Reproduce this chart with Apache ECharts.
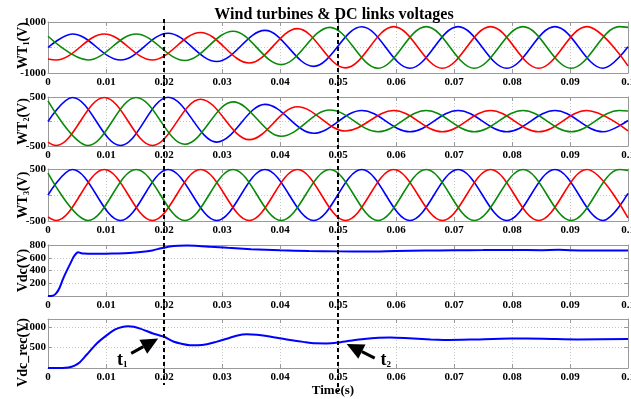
<!DOCTYPE html>
<html>
<head>
<meta charset="utf-8">
<script src="https://cdn.jsdelivr.net/npm/echarts@6/dist/echarts.min.js"></script>
<style>
  html, body { margin: 0; padding: 0; background: #fff; }
  #chart { width: 631px; height: 399px; }
</style>
</head>
<body>
<div id="chart"></div>
<script>
// ---- data: [time (s), voltage (V)] at the turning points of each phase ----
const timeTicks = [0, 0.01, 0.02, 0.03, 0.04, 0.05, 0.06, 0.07, 0.08, 0.09, 0.1];
const eventTimes = [0.02, 0.05];

const wt1Ticks = [-1000, 1000];
const wt2Ticks = [-500, 500];
const wt3Ticks = [-500, 500];
const vdcTicks = [200, 400, 600, 800];
const vdcRecTicks = [500, 1000];

// Wind turbine 1 (amplitude grows after t = 0.02 s)
const wt1Blue = [[0,0],[0.0042,530],[0.0125,-490],[0.0207,560],[0.0291,-550],[0.0374,670],[0.0458,-740],[0.0541,815],[0.0624,-815],[0.0707,820],[0.0791,-815],[0.0874,820],[0.0957,-815],[0.1,30]];
const wt1Red = [[0,-450],[0.0014,-490],[0.0097,530],[0.018,-490],[0.0263,590],[0.0347,-610],[0.043,740],[0.0513,-800],[0.0596,820],[0.068,-815],[0.0763,820],[0.0846,-815],[0.0929,820],[0.1,-720]];
const wt1Green = [[0,440],[0.0069,-490],[0.0152,530],[0.0236,-510],[0.0319,640],[0.0402,-670],[0.0486,790],[0.0569,-815],[0.0652,820],[0.0735,-815],[0.0819,820],[0.0902,-815],[0.0985,820],[0.1,790]];

// Wind turbine 2 (amplitude decays after t = 0.02 s)
const wt2Blue = [[0,0],[0.0042,490],[0.0125,-490],[0.0207,495],[0.0291,-420],[0.0374,350],[0.0458,-240],[0.0541,225],[0.0624,-210],[0.0707,225],[0.0791,-210],[0.0874,225],[0.0957,-210],[0.1,20]];
const wt2Red = [[0,-420],[0.0014,-490],[0.0097,490],[0.018,-490],[0.0263,455],[0.0347,-370],[0.043,300],[0.0513,-195],[0.0596,225],[0.068,-210],[0.0763,225],[0.0846,-210],[0.0929,225],[0.1,-190]];
const wt2Green = [[0,420],[0.0069,-490],[0.0152,490],[0.0236,-465],[0.0319,400],[0.0402,-300],[0.0486,235],[0.0569,-210],[0.0652,225],[0.0735,-210],[0.0819,225],[0.0902,-210],[0.0985,225],[0.1,215]];

// Wind turbine 3 (constant amplitude)
const wt3Blue = [[0,0],[0.0042,490],[0.0125,-490],[0.0207,490],[0.0291,-490],[0.0374,490],[0.0458,-490],[0.0541,490],[0.0624,-490],[0.0707,490],[0.0791,-490],[0.0874,490],[0.0957,-490],[0.1,30]];
const wt3Red = [[0,-420],[0.0014,-490],[0.0097,490],[0.018,-490],[0.0263,490],[0.0347,-490],[0.043,490],[0.0513,-490],[0.0596,490],[0.068,-490],[0.0763,490],[0.0846,-490],[0.0929,490],[0.1,-440]];
const wt3Green = [[0,420],[0.0069,-490],[0.0152,490],[0.0236,-490],[0.0319,490],[0.0402,-490],[0.0486,490],[0.0569,-490],[0.0652,490],[0.0735,-490],[0.0819,490],[0.0902,-490],[0.0985,490],[0.1,470]];

// DC link voltage
const vdc = [[0,0],[0.0008,3],[0.0014,40],[0.002,130],[0.0026,270],[0.0032,390],[0.0038,500],[0.0044,610],[0.0049,670],[0.0052,688],[0.0056,675],[0.0062,665],[0.008,662],[0.01,664],[0.012,668],[0.014,675],[0.016,690],[0.018,715],[0.0195,750],[0.021,778],[0.0225,790],[0.024,792],[0.026,785],[0.028,772],[0.031,755],[0.035,735],[0.04,718],[0.045,706],[0.05,700],[0.055,698],[0.06,706],[0.065,712],[0.07,718],[0.075,720],[0.08,722],[0.085,719],[0.088,724],[0.09,718],[0.095,712],[0.1,713]];

// Rectifier DC voltage
const vdcRec = [[0,0],[0.0025,0],[0.0035,10],[0.0045,50],[0.0055,140],[0.0067,330],[0.0084,600],[0.0101,800],[0.0116,945],[0.0128,1005],[0.0138,1022],[0.0148,1010],[0.0159,965],[0.017,905],[0.0181,845],[0.02,765],[0.0216,650],[0.0232,590],[0.0245,560],[0.0258,558],[0.0274,580],[0.029,640],[0.0308,715],[0.0325,790],[0.0343,825],[0.036,815],[0.0377,785],[0.0397,735],[0.0417,685],[0.044,640],[0.046,605],[0.048,603],[0.05,625],[0.052,665],[0.0545,710],[0.057,740],[0.059,748],[0.0615,735],[0.066,695],[0.0682,685],[0.0728,695],[0.0797,722],[0.0854,716],[0.0912,700],[0.1,708]];

// ---- chart ----
const FONT = 'Liberation Serif';
const BLUE = '#0000ff', RED = '#ff0000', GREEN = '#0a8a0a';
const BORDER = '#9a9a9a';

const panels = [
  { top: 22,  height: 51, min: -1000, max: 1000, interval: 1000, ticks: wt1Ticks, name: ['WT', '1', '(V)'], nameShift: -2 },
  { top: 97,  height: 49, min: -500,  max: 500,  interval: 500,  ticks: wt2Ticks, name: ['WT', '2', '(V)'], nameShift: 0 },
  { top: 169, height: 52, min: -500,  max: 500,  interval: 500,  ticks: wt3Ticks, name: ['WT', '3', '(V)'], nameShift: 0 },
  { top: 245, height: 51, min: 0,     max: 800,  interval: 200,  ticks: vdcTicks, name: ['Vdc(V)'], nameShift: 0 },
  { top: 319, height: 49, min: 0,     max: 1200, interval: 500,  ticks: vdcRecTicks, name: ['Vdc_rec(V)'], nameShift: 9 }
];

const labelStyle = { fontFamily: FONT, fontWeight: 'bold', fontSize: 11, color: '#000' };
const splitStyle = { show: true, lineStyle: { color: '#c8c8c8', type: [1, 2], width: 1 } };
const n = panels.length;

const grid = panels.map(p => ({ left: 48, right: 3, top: p.top, height: p.height, outerBoundsMode: 'none' }));

const xAxis = [];
const yAxis = [];
panels.forEach((p, i) => {
  xAxis.push({
    type: 'value', gridIndex: i, min: 0, max: 0.1, interval: 0.01,
    axisLine: { show: true, onZero: false, lineStyle: { color: BORDER, width: 1 } },
    axisTick: { show: true, inside: true, length: 4, lineStyle: { color: BORDER } },
    axisLabel: {
      ...labelStyle, margin: 4, showMinLabel: true, showMaxLabel: true,
      formatter: v => {
        const t = timeTicks.find(s => Math.abs(s - v) < 1e-9);
        return t === undefined ? '' : String(+t.toFixed(2));
      }
    },
    splitLine: splitStyle,
    name: i === n - 1 ? 'Time(s)' : '',
    nameLocation: 'middle', nameGap: 12,
    nameTextStyle: { fontFamily: FONT, fontWeight: 'bold', fontSize: 13, color: '#000', padding: [0, 10, 0, 0] }
  });
  yAxis.push({
    type: 'value', gridIndex: i, min: p.min, max: p.max, interval: p.interval,
    axisLine: { show: true, onZero: false, lineStyle: { color: BORDER, width: 1 } },
    axisTick: { show: true, inside: true, length: 4, lineStyle: { color: BORDER } },
    axisLabel: {
      ...labelStyle, margin: 2, showMinLabel: true, showMaxLabel: true,
      formatter: v => (p.ticks.includes(v) ? String(v) : '')
    },
    splitLine: splitStyle
  });
});
// box edges with inward ticks on top and right
panels.forEach((p, i) => {
  xAxis.push({
    type: 'value', gridIndex: i, position: 'top', min: 0, max: 0.1, interval: 0.01,
    axisLine: { show: true, onZero: false, lineStyle: { color: BORDER, width: 1 } },
    axisTick: { show: true, inside: true, length: 4, lineStyle: { color: BORDER } },
    axisLabel: { show: false }, splitLine: { show: false }
  });
  yAxis.push({
    type: 'value', gridIndex: i, position: 'right', min: p.min, max: p.max, interval: p.interval,
    axisLine: { show: true, onZero: false, lineStyle: { color: BORDER, width: 1 } },
    axisTick: { show: true, inside: true, length: 4, lineStyle: { color: BORDER } },
    axisLabel: { show: false }, splitLine: { show: false }
  });
});

function wave(data, color, idx) {
  return {
    type: 'line', data, xAxisIndex: idx, yAxisIndex: idx,
    smooth: 0.36, smoothMonotone: 'x', showSymbol: false, silent: true,
    lineStyle: { color, width: 1.6 }, animation: false
  };
}
function trace(data, idx) {
  return {
    type: 'line', data, xAxisIndex: idx, yAxisIndex: idx,
    smooth: 0.25, showSymbol: false, silent: true,
    lineStyle: { color: BLUE, width: 2 }, animation: false
  };
}

const series = [
  wave(wt1Blue, BLUE, 0), wave(wt1Red, RED, 0), wave(wt1Green, GREEN, 0),
  wave(wt2Blue, BLUE, 1), wave(wt2Red, RED, 1), wave(wt2Green, GREEN, 1),
  wave(wt3Blue, BLUE, 2), wave(wt3Red, RED, 2), wave(wt3Green, GREEN, 2),
  trace(vdc, 3),
  trace(vdcRec, 4)
];

const chart = echarts.init(document.getElementById('chart'));
chart.setOption({
  animation: false,
  backgroundColor: '#fff',
  title: {
    text: 'Wind turbines & DC links voltages',
    left: 329, top: 2, textAlign: 'center',
    textStyle: { fontFamily: FONT, fontWeight: 'bold', fontSize: 16, color: '#000' }
  },
  grid, xAxis, yAxis, series
});

// dashed event markers, panel names and the t1 / t2 arrows
const px = (axis, v) => chart.convertToPixel({ xAxisIndex: axis }, v);
const py = (axis, v) => chart.convertToPixel({ yAxisIndex: axis }, v);
const yTop = py(0, panels[0].max);
const yBottom = py(n - 1, 0);
const markerTails = [17, 24];

const graphics = eventTimes.map((t, k) => {
  const x = px(0, t);
  return {
    type: 'line', z: 100,
    shape: { x1: x, y1: yTop - 3, x2: x, y2: yBottom + markerTails[k] },
    style: { stroke: '#000', lineWidth: 2, lineDash: [4, 3] }
  };
});

// vertical panel names, with subscript turbine numbers
panels.forEach((p, i) => {
  const cy = (py(i, p.min) + py(i, p.max)) / 2 + p.nameShift;
  const text = p.name.length === 3
    ? '{m|' + p.name[0] + '}{s|' + p.name[1] + '}{m|' + p.name[2] + '}'
    : '{m|' + p.name[0] + '}';
  graphics.push({
    type: 'text', z: 50, x: 23, y: cy, rotation: Math.PI / 2,
    style: {
      text, align: 'center', verticalAlign: 'middle',
      rich: {
        m: { fontFamily: FONT, fontWeight: 'bold', fontSize: 14, fill: '#000', lineHeight: 16 },
        s: { fontFamily: FONT, fontWeight: 'bold', fontSize: 8, fill: '#000', lineHeight: 16, verticalAlign: 'bottom' }
      }
    }
  });
});

function arrow(tip, dx, dy) {
  const tail = [tip[0] + dx, tip[1] + dy];
  const len = Math.hypot(dx, dy);
  const ux = -dx / len, uy = -dy / len;       // points toward the tip
  const headLen = 17, headHalf = 8;
  const bx = tip[0] - ux * headLen, by = tip[1] - uy * headLen;
  const nx = -uy, ny = ux;
  return [
    { type: 'line', z: 110, shape: { x1: tail[0], y1: tail[1], x2: bx, y2: by },
      style: { stroke: '#000', lineWidth: 3 } },
    { type: 'polygon', z: 110,
      shape: { points: [[tip[0], tip[1]], [bx + nx * headHalf, by + ny * headHalf], [bx - nx * headHalf, by - ny * headHalf]] },
      style: { fill: '#000' } }
  ];
}
function tLabel(x, y, sub) {
  return {
    type: 'text', z: 110, x, y,
    style: {
      text: '{t|t}{s|' + sub + '}',
      align: 'center', verticalAlign: 'middle',
      rich: {
        t: { fontFamily: FONT, fontWeight: 'bold', fontSize: 18, fill: '#000' },
        s: { fontFamily: FONT, fontWeight: 'bold', fontSize: 9, fill: '#000', verticalAlign: 'bottom', lineHeight: 16 }
      }
    }
  };
}

const tip1 = [px(4, 0.019), py(4, 725)];
const tip2 = [px(4, 0.0515), py(4, 585)];
graphics.push(...arrow(tip1, -27, 15));
graphics.push(...arrow(tip2, 28, 14));
graphics.push(tLabel(tip1[0] - 36, tip1[1] + 22, '1'));
graphics.push(tLabel(tip2[0] + 39, tip2[1] + 16, '2'));

chart.setOption({ graphic: graphics });
</script>
</body>
</html>
